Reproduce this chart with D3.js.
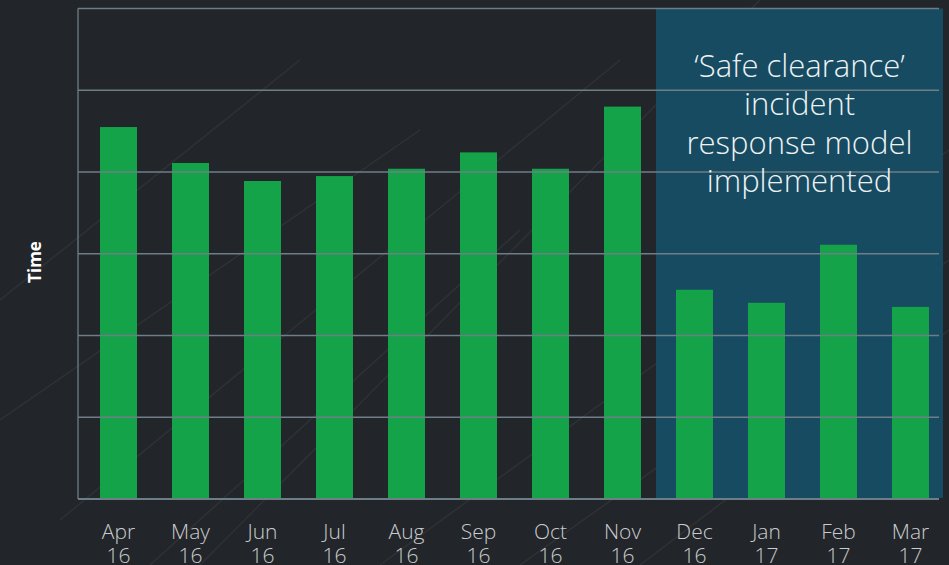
<!DOCTYPE html>
<html>
<head>
<meta charset="utf-8">
<script src="https://cdn.jsdelivr.net/npm/d3@7.9.0/dist/d3.min.js"></script>
<style>
  html, body { margin: 0; padding: 0; background: #222529; }
  svg { display: block; font-family: "Open Sans", sans-serif; }
</style>
</head>
<body>
<svg id="chart" width="949" height="565"></svg>
<script>
// data
const months = ["Apr", "May", "Jun", "Jul", "Aug", "Sep", "Oct", "Nov", "Dec", "Jan", "Feb", "Mar"];
const years = ["16", "16", "16", "16", "16", "16", "16", "16", "16", "17", "17", "17"];
const values = [4.55, 4.11, 3.89, 3.95, 4.04, 4.24, 4.04, 4.80, 2.56, 2.40, 3.11, 2.35];
const yTicks = [0, 1, 2, 3, 4, 5, 6];
const noteLines = ["\u2018Safe clearance\u2019", "incident", "response model", "implemented"];
const noteStart = "Dec";
const noteEnd = "Mar";

const svg = d3.select("#chart");
const W = 949, H = 565;

// background with a few faint streaks
svg.append("rect").attr("width", W).attr("height", H).attr("fill", "#222529");
const streaks = [
  [0, 420, 420, 130], [60, 520, 620, 60], [200, 565, 760, 0], [380, 565, 949, 150],
  [520, 565, 949, 260], [0, 300, 300, 60], [640, 565, 949, 330], [150, 565, 520, 230]
];
svg.append("g").selectAll("line").data(streaks).join("line")
  .attr("x1", d => d[0]).attr("y1", d => d[1]).attr("x2", d => d[2]).attr("y2", d => d[3])
  .attr("stroke", "#ffffff").attr("stroke-opacity", 0.06).attr("stroke-width", 1.5);

const margin = { left: 78, top: 8.5, right: 10, bottom: 66 };
const plotRight = 939;
const plotBottom = 499;

const x = d3.scaleBand()
  .domain(months)
  .range([82.5, 946.5])
  .paddingInner(35 / 72)
  .paddingOuter(35 / 144);

const y = d3.scaleLinear()
  .domain([0, 6])
  .range([plotBottom, margin.top]);

// highlighted period
const hx0 = x(noteStart) - 20;
const hx1 = x(noteEnd) + x.bandwidth() + 14;
svg.append("rect")
  .attr("x", hx0)
  .attr("y", y(6))
  .attr("width", hx1 - hx0)
  .attr("height", y(0) - y(6) - 1)
  .attr("fill", "#164d65")
  .attr("fill-opacity", 0.95);

// bars
svg.append("g").selectAll("rect").data(values).join("rect")
  .attr("x", (d, i) => x(months[i]))
  .attr("y", d => y(d))
  .attr("width", x.bandwidth())
  .attr("height", d => y(0) - 1 - y(d))
  .attr("fill", "#15a349");

// gridlines (drawn over bars like the original)
svg.append("g").selectAll("line").data(yTicks.filter(t => t > 0)).join("line")
  .attr("x1", margin.left)
  .attr("x2", plotRight)
  .attr("y1", d => y(d))
  .attr("y2", d => y(d))
  .attr("stroke", "#6e7e86")
  .attr("stroke-width", 1.3);

// axis lines
svg.append("line")
  .attr("x1", margin.left).attr("x2", margin.left)
  .attr("y1", y(6)).attr("y2", y(0))
  .attr("stroke", "#6e7e86").attr("stroke-width", 1.3);
svg.append("line")
  .attr("x1", margin.left).attr("x2", plotRight)
  .attr("y1", y(0)).attr("y2", y(0))
  .attr("stroke", "#6e7e86").attr("stroke-width", 2.2);

// x labels
const xl = svg.append("g").selectAll("text").data(months).join("text")
  .attr("x", d => x(d) + x.bandwidth() / 2)
  .attr("y", 539)
  .attr("text-anchor", "middle")
  .attr("fill", "#c9cccf")
  .attr("font-size", 21)
  .attr("font-weight", 300);
xl.append("tspan").attr("x", d => x(d) + x.bandwidth() / 2).text(d => d);
xl.append("tspan").attr("x", d => x(d) + x.bandwidth() / 2).attr("dy", 24)
  .text((d, i) => years[i]);

// y title
svg.append("text")
  .attr("transform", "translate(41,262) rotate(-90)")
  .attr("text-anchor", "middle")
  .attr("fill", "#ffffff")
  .attr("font-size", 17)
  .attr("font-weight", 700)
  .text("Time");

// annotation
svg.append("g").selectAll("text").data(noteLines).join("text")
  .attr("x", (hx0 + hx1) / 2)
  .attr("y", (d, i) => 77 + i * 38.3)
  .attr("text-anchor", "middle")
  .attr("fill", "#eef2f3")
  .attr("font-size", 31)
  .attr("font-weight", 300)
  .text(d => d);
</script>
</body>
</html>
